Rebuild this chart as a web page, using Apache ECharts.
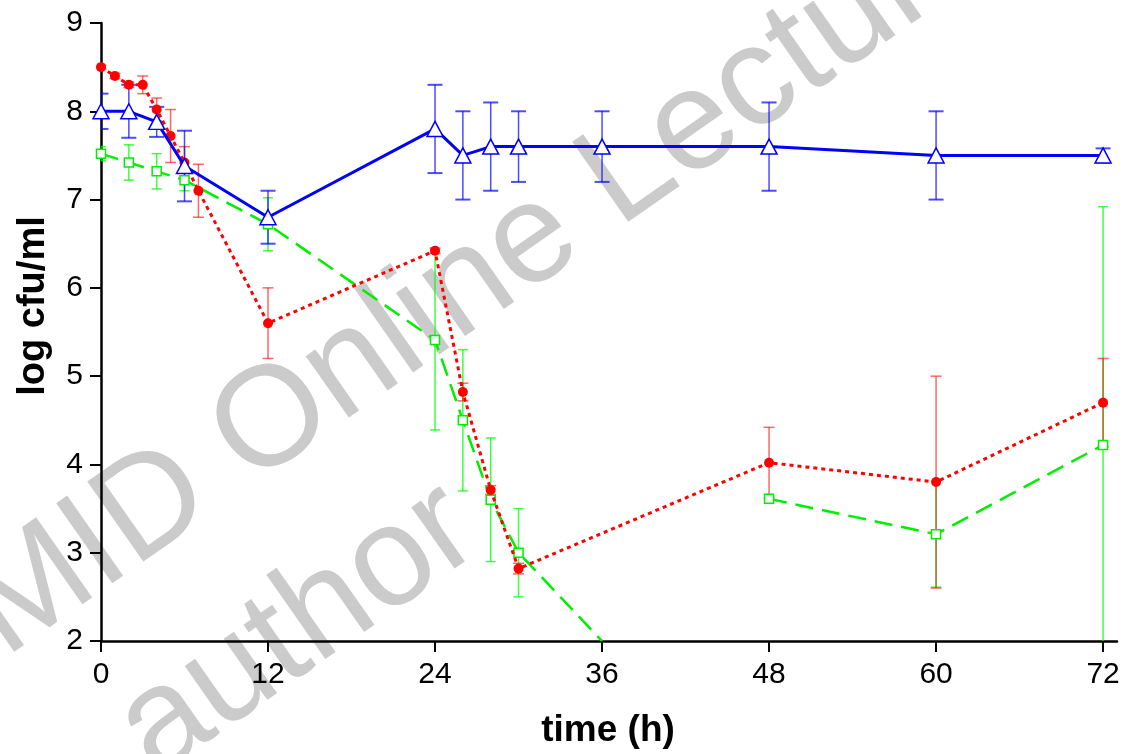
<!DOCTYPE html>
<html>
<head>
<meta charset="utf-8">
<script src="https://cdn.jsdelivr.net/npm/echarts@6/dist/echarts.min.js"></script>
<style>
  html, body { margin: 0; padding: 0; background: #fff; }
  #chart { width: 1128px; height: 754px; }
</style>
</head>
<body>
<div id="chart"></div>
<script>
// Sampling times (h)
const blueTimes  = [0, 2, 4, 6, 12, 24, 26, 28, 30, 36, 48, 60, 72];
const redTimes   = [0, 1, 2, 3, 4, 5, 6, 7, 12, 24, 26, 28, 30, 48, 60, 72];
const greenTimes = [0, 2, 4, 6, 12, 24, 26, 28, 30, 36, 42, 48, 60, 72];

// Mean log cfu/ml (null = break in the curve)
const blueMean  = [8.0, 8.0, 7.88, 7.38, 6.8, 7.8, 7.5, 7.6, 7.6, 7.6, 7.6, 7.5, 7.5];
const redMean   = [8.5, 8.4, 8.3, 8.3, 8.02, 7.72, 7.42, 7.1, 5.6, 6.42, 4.82, 3.71, 2.82, 4.02, 3.8, 4.7];
const greenMean = [7.52, 7.42, 7.32, 7.22, 6.72, 5.41, 4.5, 3.6, 3.0, 2.0, null, 3.61, 3.21, 4.22];

// Standard deviations
const blueSd  = [0.2, 0.3, 0.17, 0.4, 0.3, 0.5, 0.5, 0.5, 0.4, 0.4, 0.5, 0.5, 0.08];
const redSd   = [0.02, 0.03, 0.03, 0.1, 0.13, 0.3, 0.18, 0.3, 0.4, 0.03, 0.1, 0.05, 0.06, 0.4, 1.2, 0.5];
const greenSd = [0.08, 0.2, 0.2, 0.12, 0.3, 1.02, 0.8, 0.7, 0.5, 0, null, 0.02, 0.6, 2.7];

// Axis ticks
const xTicks = [0, 12, 24, 36, 48, 60, 72];
const yTicks = [2, 3, 4, 5, 6, 7, 8, 9];

const X_MIN = 0, X_MAX = 73, Y_MIN = 2, Y_MAX = 9;
const FONT = '"Liberation Sans", Arial, sans-serif';

function lineData(times, means) {
  return times.map((t, i) => means[i] == null ? [t, '-'] : [t, means[i]]);
}
function errData(times, means, sds) {
  const out = [];
  times.forEach((t, i) => {
    if (means[i] != null && sds[i]) out.push([t, means[i] - sds[i], means[i] + sds[i]]);
  });
  return out;
}
function errSeries(data, color, capW, stemW, capLW, opacity) {
  return {
    type: 'custom',
    data: data,
    clip: true,
    z: 1,
    silent: true,
    encode: { x: 0, y: [1, 2] },
    renderItem: function (params, api) {
      const x = api.value(0);
      const lo = api.coord([x, api.value(1)]);
      const hi = api.coord([x, api.value(2)]);
      const h = capW / 2;
      const st = { stroke: color, lineWidth: stemW, opacity: opacity };
      const cs = { stroke: color, lineWidth: capLW, opacity: opacity };
      return {
        type: 'group',
        children: [
          { type: 'line', shape: { x1: lo[0], y1: lo[1], x2: hi[0], y2: hi[1] }, style: st },
          { type: 'line', shape: { x1: hi[0] - h, y1: hi[1], x2: hi[0] + h, y2: hi[1] }, style: cs },
          { type: 'line', shape: { x1: lo[0] - h, y1: lo[1], x2: lo[0] + h, y2: lo[1] }, style: cs }
        ]
      };
    }
  };
}

const chart = echarts.init(document.getElementById('chart'), null, { renderer: 'canvas' });

// Diagonal grey watermark behind the plot
const WM_ANGLE = 35 * Math.PI / 180;
const watermarkStyle = { fill: '#cbcbcb', fontSize: 142, fontFamily: FONT,
  align: 'left', verticalAlign: 'middle', textAlign: 'left', textVerticalAlign: 'middle' };

chart.setOption({
  animation: false,
  backgroundColor: '#ffffff',
  grid: { left: 101, right: 11, top: 23, bottom: 113, containLabel: false, outerBoundsMode: 'none' },
  graphic: [
    { type: 'text', x: -257, y: 794, rotation: WM_ANGLE, z: -10, silent: true,
      style: Object.assign({ text: 'ESCMID Online Lecture Library' }, watermarkStyle) },
    { type: 'text', x: 133, y: 746, rotation: WM_ANGLE, z: -10, silent: true,
      style: Object.assign({ text: 'author' }, watermarkStyle) },
    { type: 'text', x: 34, y: 306, rotation: Math.PI / 2, z: 10,
      style: { text: 'log cfu/ml', fill: '#000', fontSize: 38, fontWeight: 'bold', fontFamily: FONT,
        align: 'center', verticalAlign: 'middle', textAlign: 'center', textVerticalAlign: 'middle' } },
    { type: 'text', x: 608, y: 731, z: 10,
      style: { text: 'time (h)', fill: '#000', fontSize: 37, fontWeight: 'bold', fontFamily: FONT,
        align: 'center', verticalAlign: 'middle', textAlign: 'center', textVerticalAlign: 'middle' } }
  ],
  xAxis: {
    type: 'value', min: X_MIN, max: X_MAX, interval: 12,
    splitLine: { show: false },
    axisLine: { show: true, onZero: false, lineStyle: { color: '#000', width: 2.5 } },
    axisTick: { show: true, inside: false, length: 11, customValues: xTicks, lineStyle: { color: '#000', width: 2 } },
    axisLabel: { show: true, margin: 19, customValues: xTicks, color: '#000', fontSize: 30, fontFamily: FONT }
  },
  yAxis: {
    type: 'value', min: Y_MIN, max: Y_MAX, interval: 1,
    splitLine: { show: false },
    axisLine: { show: true, onZero: false, lineStyle: { color: '#000', width: 2.5 } },
    axisTick: { show: true, inside: false, length: 11, customValues: yTicks, lineStyle: { color: '#000', width: 2 } },
    axisLabel: { show: true, margin: 18, customValues: yTicks, color: '#000', fontSize: 30, fontFamily: FONT }
  },
  series: [
    errSeries(errData(greenTimes, greenMean, greenSd), '#00ff00', 10, 1.5, 1.5, 0.75),
    errSeries(errData(redTimes, redMean, redSd), '#ff0000', 11, 1.5, 1.5, 0.6),
    errSeries(errData(blueTimes, blueMean, blueSd), '#0000ff', 15, 1.5, 2, 0.7),
    {
      type: 'line', name: 'green', z: 3,
      data: lineData(greenTimes, greenMean),
      connectNulls: false,
      symbol: 'rect',
      symbolSize: function (v) { return v[1] <= Y_MIN ? 0 : 9; },
      itemStyle: { color: '#ffffff', borderColor: '#00ee00', borderWidth: 1.5 },
      lineStyle: { color: '#00ee00', width: 2.5, type: [18, 9] }
    },
    {
      type: 'line', name: 'red', z: 4,
      data: lineData(redTimes, redMean),
      symbol: 'circle', symbolSize: 10,
      itemStyle: { color: '#ff0000', borderWidth: 0 },
      lineStyle: { color: '#ff0000', width: 3, type: [4, 4] }
    },
    {
      type: 'line', name: 'blue', z: 5,
      data: lineData(blueTimes, blueMean),
      symbol: 'triangle', symbolSize: [16, 15],
      itemStyle: { color: '#ffffff', borderColor: '#0000ff', borderWidth: 1.5 },
      lineStyle: { color: '#0000ff', width: 3, type: 'solid' }
    }
  ]
});
</script>
</body>
</html>
